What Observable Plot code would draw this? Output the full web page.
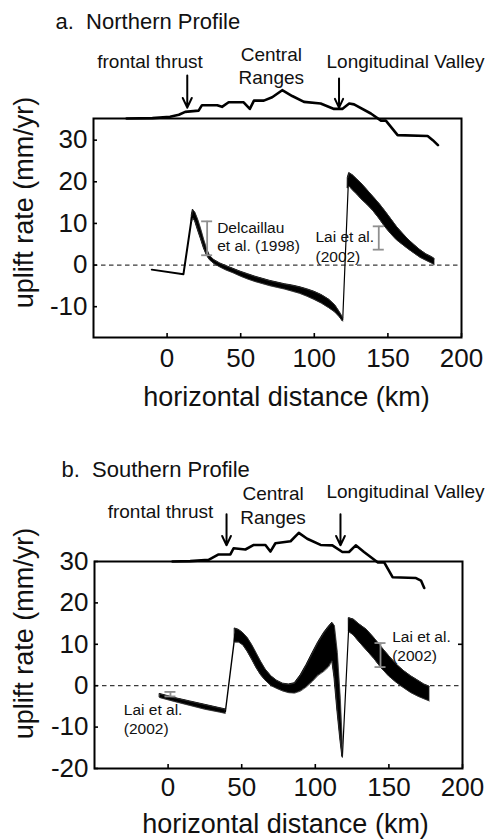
<!DOCTYPE html>
<html>
<head>
<meta charset="utf-8">
<script src="https://cdn.jsdelivr.net/npm/d3@7"></script>
<script src="https://cdn.jsdelivr.net/npm/@observablehq/plot@0.6"></script>
<style>
  html, body { margin: 0; padding: 0; background: #fff; }
  #chart svg { display: block; }
</style>
</head>
<body>
<div id="chart"></div>
<script>
const FONT = "'Liberation Sans', Arial, Helvetica, sans-serif";

// Axis ticks
const xTicks = [0, 50, 100, 150, 200];
const northYTicks = [-10, 0, 10, 20, 30];
const southYTicks = [-20, -10, 0, 10, 20, 30];

// ---------- a. Northern profile ----------
// Topographic profile sketched above the rate panel (same vertical scale)
const northTopoKm = [-27.5, -10, 2, 8, 12.3, 21.4, 23.7, 34, 37.3, 41.8, 52, 56.2, 59, 65.7, 71.4, 78.2, 85, 93, 104.3, 113.4, 119, 123.7, 127, 138.4, 145.3, 148.6, 156.6, 177, 180.5, 184];
const northTopo   = [35.2, 35.3, 35.6, 36.1, 36.8, 37.1, 38.4, 38.4, 38.0, 39.1, 39.1, 37.5, 39.5, 39.5, 40.3, 42.0, 40.6, 39.2, 38.8, 37.5, 37.5, 38.8, 38.6, 36.4, 34.7, 34.7, 31.2, 31.0, 30.0, 28.8];
// Feature locations (km): frontal thrust, Longitudinal Valley
const northFeatureKm = [13.7, 116.8];

// Foreland segment and the jumps across the faults (single curves)
const northLeadKm = [-10.4, 11.1, 16.8];
const northLead   = [-1.1, -2.2, 11.5];
const northJumpKm = [119.3, 123.3];
const northJump   = [-13.2, 21.3];

// Envelope of the model ensemble: western belt
const northBand1Km = [16.8, 17.5, 19, 21, 23, 25, 27, 29, 32, 36, 40, 45, 50, 55, 60, 65, 70, 75, 80, 85, 90, 95, 100, 105, 110, 114, 117, 119.3];
const northBand1Hi = [12.0, 13.3, 12.6, 10.8, 8.5, 6.0, 3.8, 2.2, 1.2, 0.4, -0.2, -0.9, -1.6, -2.2, -2.8, -3.3, -3.8, -4.2, -4.6, -4.9, -5.3, -5.8, -6.4, -7.2, -8.3, -9.6, -11.2, -12.6];
const northBand1Lo = [10.5, 11.3, 10.5, 8.3, 6.2, 4.0, 2.3, 1.2, 0.3, -0.5, -1.2, -1.9, -2.7, -3.4, -4.0, -4.5, -5.0, -5.4, -5.8, -6.3, -6.8, -7.5, -8.3, -9.2, -10.3, -11.3, -12.4, -13.5];
// Envelope of the model ensemble: Coastal Range side
const northBand2Km = [122.8, 123.7, 126, 129, 132, 136, 140, 144, 148, 152, 156, 160, 164, 168, 172, 176, 180, 181.6];
const northBand2Hi = [21.0, 22.1, 21.6, 20.6, 19.6, 18.0, 16.4, 14.8, 13.0, 11.1, 9.2, 7.6, 6.1, 4.8, 3.6, 2.6, 1.9, 1.5];
const northBand2Lo = [18.5, 19.0, 18.0, 17.0, 15.8, 14.5, 13.0, 11.2, 9.2, 7.5, 6.0, 4.9, 3.8, 2.8, 1.8, 1.1, 0.4, 0.1];

// Observed uplift rates (Delcaillau et al. 1998; Lai et al. 2002)
const northObsKm = [27.2, 143.8];
const northObsLo = [2.35, 3.7];
const northObsHi = [10.5, 9.3];

// ---------- b. Southern profile ----------
const southTopoKm = [3, 15, 27.5, 34.3, 42.3, 44.5, 52.5, 58.2, 66.1, 69.5, 72.9, 83.2, 88.8, 94.5, 103.6, 111.6, 118.4, 122.9, 127.5, 133.1, 142.3, 146.8, 152.5, 168.4, 171.8, 174];
const southTopo   = [30.0, 30.1, 30.4, 31.7, 31.7, 33.2, 32.9, 34.0, 34.0, 32.4, 34.4, 34.9, 36.9, 35.5, 34.0, 33.9, 32.3, 32.3, 33.9, 32.3, 29.8, 29.8, 26.2, 26.0, 25.4, 23.6];
const southFeatureKm = [39.7, 117.1];

const southBand0Km = [-5.5, 5, 15, 25, 35, 38.9];
const southBand0Hi = [-2.0, -3.0, -3.8, -4.6, -5.4, -5.7];
const southBand0Lo = [-2.9, -3.9, -4.8, -5.7, -6.4, -6.7];
const southJump1Km = [38.9, 45.5];
const southJump1   = [-6.3, 12.5];

const southBand1Km = [45.5, 48, 51, 54, 57, 60, 63, 66, 70, 74, 78, 82, 86, 90, 94, 98, 102, 106, 109, 111.5, 113, 115, 117, 118.4];
const southBand1Hi = [13.8, 13.5, 12.7, 11.5, 9.8, 7.8, 5.8, 4.0, 2.3, 1.2, 0.5, 0.3, 0.6, 2.5, 5.0, 7.8, 10.5, 12.8, 14.2, 15.2, 14.5, 8.0, -3.0, -14.0];
const southBand1Lo = [10.5, 10.5, 9.8, 8.2, 6.3, 4.3, 2.6, 1.3, 0.0, -0.7, -1.3, -1.7, -1.8, -1.3, -0.3, 1.0, 2.5, 3.5, 4.5, 6.0, 2.0, -6.0, -13.0, -17.2];
const southJump2Km = [118.4, 123];
const southJump2   = [-17.2, 16.3];

const southBand2Km = [123, 126, 130, 135, 140, 145, 150, 155, 160, 165, 170, 174, 177.5];
const southBand2Hi = [16.3, 16.0, 14.8, 13.5, 11.5, 9.3, 7.2, 5.2, 3.6, 2.3, 1.2, 0.3, -0.2];
const southBand2Lo = [13.0, 12.2, 10.5, 8.5, 6.5, 4.2, 2.3, 0.8, -0.5, -1.7, -2.6, -3.2, -3.7];

const southObsKm = [1.6, 144.3];
const southObsLo = [-2.6, 4.5];
const southObsHi = [-1.5, 10.3];

// ---------- helpers ----------
const pts = (xs, ys) => xs.map((x, i) => ({x, y: ys[i]}));
const band = (xs, lo, hi) => xs.map((x, i) => ({x, lo: lo[i], hi: hi[i]}));
const obs = (xs, lo, hi) => xs.map((x, i) => ({x, lo: lo[i], hi: hi[i]}));

function bandMarks(b) {
  return [
    Plot.areaY(b, {x: "x", y1: "lo", y2: "hi", fill: "#000", stroke: "#000", strokeWidth: 0.9}),
    Plot.line(b, {x: "x", y: "hi", stroke: "#333", strokeWidth: 0.8}),
    Plot.line(b, {x: "x", y: "lo", stroke: "#333", strokeWidth: 0.8})
  ];
}

function obsMarks(o) {
  const grey = "#8f8f8f";
  return [
    Plot.ruleX(o, {x: "x", y1: "lo", y2: "hi", stroke: grey, strokeWidth: 1.8}),
    Plot.ruleY(o, {y: "hi", x1: "x", x2: "x", insetLeft: -5.5, insetRight: -5.5, stroke: grey, strokeWidth: 1.8}),
    Plot.ruleY(o, {y: "lo", x1: "x", x2: "x", insetLeft: -5.5, insetRight: -5.5, stroke: grey, strokeWidth: 1.8})
  ];
}

function panel(cfg) {
  const W = 490;
  const innerW = W - cfg.marginLeft - cfg.marginRight;
  const innerH = cfg.height - cfg.marginTop - cfg.marginBottom;
  const t = (d, o) => Plot.text([d], {x: "x", y: "y", text: "t", fontFamily: FONT, fill: "#111", ...o});
  return Plot.plot({
    width: W,
    height: cfg.height,
    marginTop: cfg.marginTop,
    marginBottom: cfg.marginBottom,
    marginLeft: cfg.marginLeft,
    marginRight: cfg.marginRight,
    style: {fontFamily: FONT, background: "#fff", overflow: "visible", color: "#111"},
    x: {domain: [-50, 200]},
    y: {domain: cfg.yDomain},
    marks: [
      // zero line
      Plot.ruleY([0], {stroke: "#3a3a3a", strokeWidth: 1.3, strokeDasharray: "4.5,3.5"}),
      // inward ticks
      Plot.ruleX(xTicks, {x: d => d, insetTop: innerH - 4, stroke: "#000", strokeWidth: 1.6}),
      Plot.ruleY(cfg.yTicks, {y: d => d, insetRight: innerW - 4, stroke: "#000", strokeWidth: 1.6}),
      Plot.ruleY(cfg.rightTicks, {y: d => d, insetLeft: innerW - 4, stroke: "#000", strokeWidth: 1.6}),
      // tick labels
      Plot.axisX(xTicks, {tickSize: 0, tickPadding: cfg.xPad, fontSize: 26, tickFormat: d => String(d), label: null, fill: "#111"}),
      Plot.axisY(cfg.yTicks, {tickSize: 0, tickPadding: 6, fontSize: 26, tickFormat: d => String(d), label: null, fill: "#111"}),
      // topography
      Plot.line(cfg.topo, {x: "x", y: "y", stroke: "#000", strokeWidth: 2.6, strokeLinejoin: "round"}),
      // model curves
      ...cfg.curves.map(c => Plot.line(c.data, {x: "x", y: "y", stroke: "#000", strokeWidth: c.w})),
      ...cfg.bands.flatMap(bandMarks),
      ...obsMarks(cfg.obs),
      // feature arrows
      Plot.arrow(cfg.arrows, {x1: "x", x2: "x", y1: "y1", y2: "y2", stroke: "#000", strokeWidth: 2, headLength: 9, headAngle: 50}),
      Plot.frame({stroke: "#000", strokeWidth: 2}),
      // texts
      ...cfg.texts.map(([d, o]) => t(d, o))
    ]
  });
}

const chart = document.getElementById("chart");

chart.append(panel({
  height: 420, marginTop: 118, marginBottom: 83, marginLeft: 93, marginRight: 29,
  yDomain: [-17.4, 35.2], yTicks: northYTicks, rightTicks: [], xPad: 11,
  topo: pts(northTopoKm, northTopo),
  curves: [{data: pts(northLeadKm, northLead), w: 2}, {data: pts(northJumpKm, northJump), w: 1.2}],
  bands: [band(northBand1Km, northBand1Lo, northBand1Hi), band(northBand2Km, northBand2Lo, northBand2Hi)],
  obs: obs(northObsKm, northObsLo, northObsHi),
  arrows: [
    {x: northFeatureKm[0], y1: 45.5, y2: 37.8},
    {x: northFeatureKm[1], y1: 44.8, y2: 37.8}
  ],
  texts: [
    [{x: -75.8, y: 58.4, t: "a.  Northern Profile"}, {textAnchor: "start", fontSize: 22}],
    [{x: -11.6, y: 48.9, t: "frontal thrust"}, {fontSize: 19}],
    [{x: 70.8, y: 48.1, t: "Central\nRanges"}, {fontSize: 19, lineHeight: 1.21}],
    [{x: 162, y: 48.9, t: "Longitudinal Valley"}, {fontSize: 19}],
    [{x: 34.0, y: 6.9, t: "Delcaillau\net al. (1998)"}, {textAnchor: "start", fontSize: 15.5, lineHeight: 1.18}],
    [{x: 100.8, y: 4.6, t: "Lai et al.\n(2002)"}, {textAnchor: "start", fontSize: 15.5, lineHeight: 1.245}],
    [{x: -96.9, y: 15.0, t: "uplift rate (mm/yr)"}, {rotate: -90, fontSize: 27}],
    [{x: 81.1, y: -31.7, t: "horizontal distance (km)"}, {fontSize: 27}]
  ]
}));

chart.append(panel({
  height: 419, marginTop: 141, marginBottom: 71, marginLeft: 94, marginRight: 28,
  yDomain: [-20, 30], yTicks: southYTicks, rightTicks: [10], xPad: 9,
  topo: pts(southTopoKm, southTopo),
  curves: [{data: pts(southJump1Km, southJump1), w: 1.4}, {data: pts(southJump2Km, southJump2), w: 1.2}],
  bands: [band(southBand0Km, southBand0Lo, southBand0Hi), band(southBand1Km, southBand1Lo, southBand1Hi), band(southBand2Km, southBand2Lo, southBand2Hi)],
  obs: obs(southObsKm, southObsLo, southObsHi),
  arrows: [
    {x: southFeatureKm[0], y1: 41.4, y2: 33.9},
    {x: southFeatureKm[1], y1: 41.4, y2: 33.9}
  ],
  texts: [
    [{x: -72.4, y: 52.2, t: "b.  Southern Profile"}, {textAnchor: "start", fontSize: 22}],
    [{x: -5.2, y: 41.9, t: "frontal thrust"}, {fontSize: 19}],
    [{x: 71.3, y: 43.8, t: "Central\nRanges"}, {fontSize: 19, lineHeight: 1.26}],
    [{x: 161.3, y: 46.7, t: "Longitudinal Valley"}, {fontSize: 19}],
    [{x: 152.2, y: 9.8, t: "Lai et al.\n(2002)"}, {textAnchor: "start", fontSize: 15.5, lineHeight: 1.245}],
    [{x: -30.1, y: -8.0, t: "Lai et al.\n(2002)"}, {textAnchor: "start", fontSize: 15.5, lineHeight: 1.23}],
    [{x: -97.6, y: 12.6, t: "uplift rate (mm/yr)"}, {rotate: -90, fontSize: 27}],
    [{x: 79.8, y: -33.4, t: "horizontal distance (km)"}, {fontSize: 27}]
  ]
}));
</script>
</body>
</html>
